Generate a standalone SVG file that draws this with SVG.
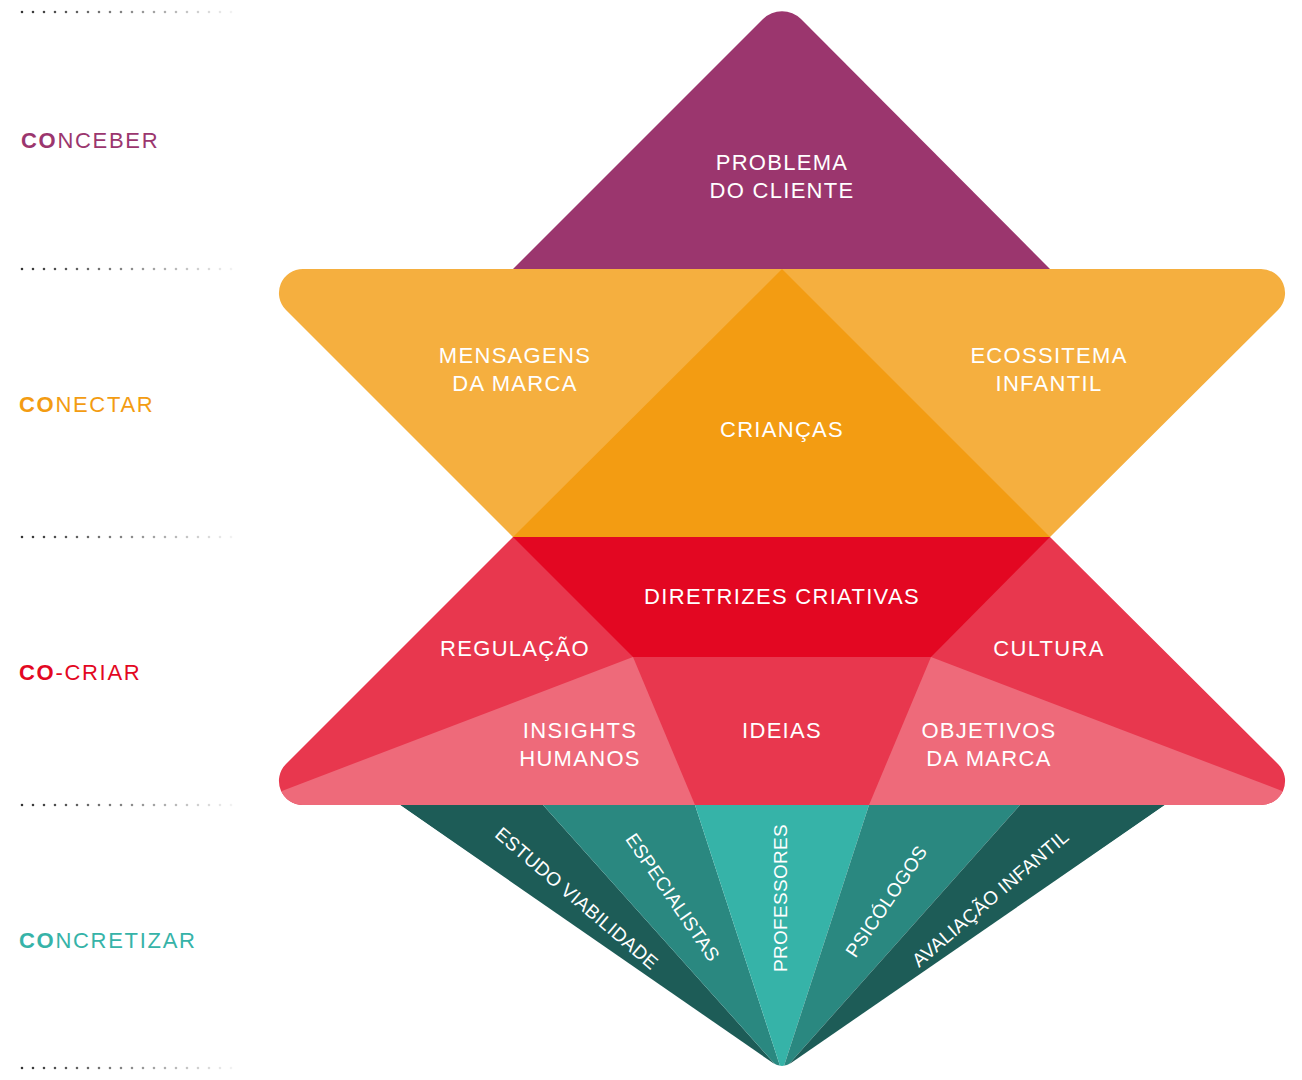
<svg xmlns="http://www.w3.org/2000/svg" width="1302" height="1080" viewBox="0 0 1302 1080">
<style>
.t{font-family:"Liberation Sans",Arial,sans-serif;font-size:22px;fill:#fff;letter-spacing:1.3px;text-anchor:middle}
.r{font-family:"Liberation Sans",Arial,sans-serif;font-size:19px;fill:#fff;letter-spacing:0.3px;text-anchor:middle}
.lab{font-family:"Liberation Sans",Arial,sans-serif;font-size:22px;letter-spacing:1.7px}
.dots{stroke:url(#dg);stroke-width:2.6;stroke-linecap:round;stroke-dasharray:0 11;fill:none}
</style>
<defs>
<linearGradient id="dg" gradientUnits="userSpaceOnUse" x1="22" y1="0" x2="232" y2="0">
<stop offset="0" stop-color="#333"/>
<stop offset="0.5" stop-color="#888"/>
<stop offset="1" stop-color="#f2f2f2"/>
</linearGradient>
<clipPath id="redclip"><path d="M513,537 L1050,537 L1278,764 A24,24 0 0 1 1261,805 L303,805 A24,24 0 0 1 286,764 Z"/></clipPath>
<clipPath id="tealclip"><path d="M400,805 L1165,805 L791,1063 Q782,1069 773,1063 Z"/></clipPath>
</defs>

<g id="guides">
<line class="dots" x1="22" y1="12" x2="232" y2="12"/>
<line class="dots" x1="22" y1="269" x2="232" y2="269"/>
<line class="dots" x1="22" y1="537" x2="232" y2="537"/>
<line class="dots" x1="22" y1="805" x2="232" y2="805"/>
<line class="dots" x1="22" y1="1068" x2="232" y2="1068"/>
</g>

<g id="labels">
<text class="lab" x="21" y="148" fill="#9B366E"><tspan font-weight="bold">CO</tspan>NCEBER</text>
<text class="lab" x="19" y="412" fill="#F39C12"><tspan font-weight="bold">CO</tspan>NECTAR</text>
<text class="lab" x="19" y="680" fill="#E30722"><tspan font-weight="bold">CO</tspan>-CRIAR</text>
<text class="lab" x="19" y="948" fill="#36B3A8"><tspan font-weight="bold">CO</tspan>NCRETIZAR</text>
</g>

<g id="problema">
<path d="M513,269 L763,19 A27,27 0 0 1 801,19 L1050,269 Z" fill="#9B366E"/>
<text class="t" x="782" y="170">PROBLEMA</text>
<text class="t" x="782" y="198">DO CLIENTE</text>
</g>

<g id="conectar">
<path d="M303,269 L1261,269 A24,24 0 0 1 1278,310 L1050,537 L513,537 L286,310 A24,24 0 0 1 303,269 Z" fill="#F5AF3F"/>
<text class="t" x="515" y="363">MENSAGENS</text>
<text class="t" x="515" y="391">DA MARCA</text>
<text class="t" x="1049" y="363">ECOSSITEMA</text>
<text class="t" x="1049" y="391">INFANTIL</text>
</g>

<g id="criancas">
<path d="M782,269 L1050,537 L513,537 Z" fill="#F39C12"/>
<text class="t" x="782" y="437">CRIANÇAS</text>
</g>

<g id="cocriar">
<path d="M513,537 L1050,537 L1278,764 A24,24 0 0 1 1261,805 L303,805 A24,24 0 0 1 286,764 Z" fill="#E8374E"/>
<g clip-path="url(#redclip)">
<path d="M633,657 L245,805 L695,805 Z" fill="#EE6A7A"/>
<path d="M931,657 L1319,805 L869,805 Z" fill="#EE6A7A"/>
</g>
<path d="M513,537 L1050,537 L931,657 L633,657 Z" fill="#E30722"/>
</g>

<g id="diretrizes"><text class="t" x="782" y="604">DIRETRIZES CRIATIVAS</text></g>
<g id="regulacao"><text class="t" x="515" y="656">REGULAÇÃO</text></g>
<g id="cultura"><text class="t" x="1049" y="656">CULTURA</text></g>
<g id="insights"><text class="t" x="580" y="738">INSIGHTS</text><text class="t" x="580" y="766">HUMANOS</text></g>
<g id="ideias"><text class="t" x="782" y="738">IDEIAS</text></g>
<g id="objetivos"><text class="t" x="989" y="738">OBJETIVOS</text><text class="t" x="989" y="766">DA MARCA</text></g>

<g id="concretizar" clip-path="url(#tealclip)">
<path d="M400,805 L543,805 L782,1072 Z" fill="#1D5C57"/>
<path d="M543,805 L695,805 L782,1072 Z" fill="#2A8880"/>
<path d="M695,805 L869,805 L782,1072 Z" fill="#36B3A8"/>
<path d="M869,805 L1020,805 L782,1072 Z" fill="#2A8880"/>
<path d="M1020,805 L1165,805 L782,1072 Z" fill="#1D5C57"/>
</g>

<g id="teal-labels">
<text class="r" transform="translate(577,898) rotate(40.5)" y="7">ESTUDO VIABILIDADE</text>
<text class="r" transform="translate(673,897) rotate(55.5)" y="7">ESPECIALISTAS</text>
<text class="r" transform="translate(780,898) rotate(-90)" y="7">PROFESSORES</text>
<text class="r" transform="translate(886,901) rotate(-56)" y="7">PSICÓLOGOS</text>
<text class="r" transform="translate(990,898) rotate(-40.5)" y="7">AVALIAÇÃO INFANTIL</text>
</g>
</svg>
